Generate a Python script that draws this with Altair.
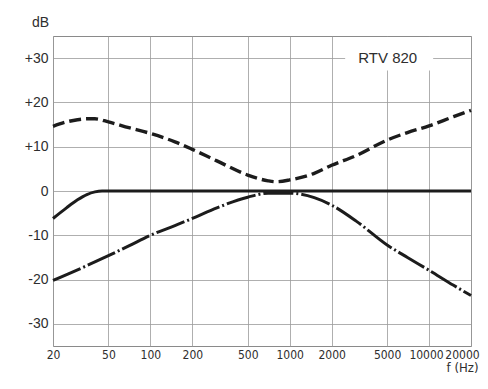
import altair as alt
import pandas as pd

# ---- data ----
x_ticks = [20, 50, 100, 200, 500, 1000, 2000, 5000, 10000, 20000]
y_ticks = [-30, -20, -10, 0, 10, 20, 30]

freq_solid = [20, 25, 30, 35, 40, 45, 50, 100, 1000, 10000, 20000]
level_solid = [-6.2, -3.8, -2.0, -0.8, -0.2, 0, 0, 0, 0, 0, 0]

freq_dash = [20, 25, 30, 35, 40, 50, 70, 100, 150, 200, 300, 500, 700, 800,
             1000, 1500, 2000, 3000, 5000, 7000, 10000, 15000, 20000]
level_dash = [14.6, 15.6, 16.1, 16.3, 16.3, 15.6, 14.3, 13.0, 11.1, 9.4, 6.8, 3.6, 2.3, 2.1,
              2.5, 4.0, 5.8, 8.0, 11.5, 13.2, 14.7, 16.8, 18.2]

freq_dashdot = [20, 30, 50, 70, 100, 150, 200, 300, 500, 700, 1000, 1500, 2000,
                3000, 5000, 7000, 10000, 15000, 20000]
level_dashdot = [-20.2, -17.8, -14.6, -12.4, -10.0, -7.8, -6.2, -3.8, -1.4, -0.5, -0.5, -1.5, -3.2,
                 -6.8, -12.2, -15.0, -17.9, -21.3, -23.6]

label_text = ["RTV 820"]
label_f = [5050]
label_db = [30]
box_f = [2500]
box_f2 = [10700]
box_db = [27.2]
box_db2 = [34.8]

df_solid = pd.DataFrame({"f": freq_solid, "db": level_solid})
df_dash = pd.DataFrame({"f": freq_dash, "db": level_dash})
df_dashdot = pd.DataFrame({"f": freq_dashdot, "db": level_dashdot})
df_label = pd.DataFrame({"f": label_f, "db": label_db, "t": label_text})
df_box = pd.DataFrame({"f": box_f, "f2": box_f2, "db": box_db, "db2": box_db2})

FONT = "Liberation Sans"
XFONT = "Liberation Sans Narrow, DejaVu Sans Condensed, Liberation Sans"
INK = "#1c1c1c"
TXT = "#2e2e2e"

x_scale = alt.Scale(type="log", domain=[20, 20000], nice=False)
y_scale = alt.Scale(domain=[-35, 35], nice=False)

x_axis = alt.Axis(
    values=x_ticks, grid=True, ticks=False, domain=False,
    labelOverlap=False, labelFlush=False, labelBound=False,
    labelFontSize=12, labelPadding=3, labelColor=TXT, labelFont=XFONT,
    labelOffset={"condition": [{"test": "datum.value == 20000", "value": -9},
                               {"test": "datum.value == 10000", "value": -3}],
                 "value": 0},
    format="d",
    title="f (Hz)", titleFont=XFONT, titleFontSize=13, titleFontWeight="normal",
    titleColor=TXT, titleAlign="right", titleBaseline="bottom",
    titleX=425, titleY=28.5, titleAngle=0,
)
y_axis = alt.Axis(
    values=y_ticks, grid=True, ticks=False, domain=False,
    labelFontSize=14, labelPadding=5, labelColor=TXT, labelFont=FONT,
    labelExpr="datum.value > 0 ? '+' + datum.value : (datum.value < 0 ? '-' + abs(datum.value) : '0')",
    title="dB", titleFont=FONT, titleFontSize=14, titleFontWeight="normal",
    titleColor=TXT, titleAngle=0, titleAlign="center", titleBaseline="middle",
    titleX=-13, titleY=-14,
)

X = alt.X("f:Q", scale=x_scale, axis=x_axis)
Y = alt.Y("db:Q", scale=y_scale, axis=y_axis)

box = alt.Chart(df_box).mark_rect(color="white").encode(
    x=X, x2="f2:Q", y=Y, y2="db2:Q"
)
label = alt.Chart(df_label).mark_text(
    font=FONT, fontSize=15, color=TXT, align="center", baseline="middle"
).encode(x=X, y=Y, text="t:N")

solid = alt.Chart(df_solid).mark_line(
    color=INK, strokeWidth=3, interpolate="monotone"
).encode(x=X, y=Y)
dashed = alt.Chart(df_dash).mark_line(
    color=INK, strokeWidth=3.4, strokeDash=[12, 5], interpolate="monotone"
).encode(x=X, y=Y)
dashdot = alt.Chart(df_dashdot).mark_line(
    color=INK, strokeWidth=3, strokeDash=[30, 3, 2, 3], interpolate="monotone"
).encode(x=X, y=Y)

chart = alt.layer(box, label, dashdot, solid, dashed).properties(
    width=418, height=310,
    autosize=alt.AutoSizeParams(type="none"),
    padding={"left": 45, "top": 28, "right": 9, "bottom": 29},
    background="white",
).configure_view(
    stroke="#8a8a8a", strokeWidth=1
).configure_axis(
    gridColor="#9a9a9a", gridWidth=0.8, gridOpacity=1
)

chart.save("out.html", embed_options={"renderer": "svg", "actions": False})
